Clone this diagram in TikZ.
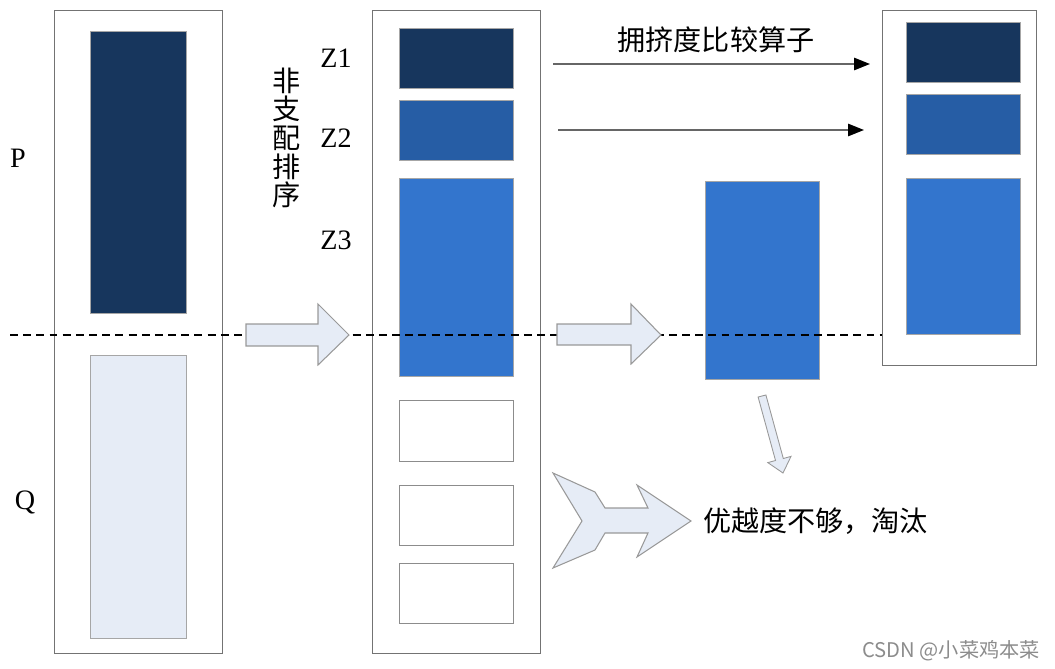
\documentclass[tikz,border=0pt]{standalone}
\usepackage{fontspec}
\setmainfont{Liberation Serif}
\newfontfamily\cjk{Noto Sans CJK SC}
\usepackage{xcolor}
\usepackage{tikz}
\usetikzlibrary{arrows.meta, positioning}

\newlength\px
\setlength\px{0.02cm}

\definecolor{navyP}{RGB}{23,54,93}
\definecolor{midZ}{RGB}{38,93,165}
\definecolor{brightZ}{RGB}{51,117,205}
\definecolor{paleQ}{RGB}{230,236,246}

\begin{document}
\begin{tikzpicture}[
  x=0.02cm, y=-0.02cm,
  every node/.style={font=\fontsize{16}{18}\selectfont, inner sep=0pt, outer sep=0pt},
  popbox/.style={rectangle, draw=black!55, line width=0.5pt, minimum width=168\px},
  blk/.style={rectangle, minimum width=114\px, minimum height=60\px},
  dark/.style={blk, fill=navyP, draw=black!35, line width=0.4pt},
  mid/.style={blk, fill=midZ, draw=black!35, line width=0.4pt},
  bright/.style={blk, fill=brightZ, draw=black!35, line width=0.4pt},
  empty/.style={blk, draw=black!45, fill=white, line width=0.5pt},
  blockarr/.style={draw=black!40, fill=paleQ, line width=0.6pt, line join=miter},
  thinarr/.style={-{Triangle[length=9pt, width=7pt, color=black]}, gray!80!black, line width=0.8pt},
  lab/.style={font=\fontsize{16}{18}\selectfont\cjk}
]
  \useasboundingbox (0,0) rectangle (1055,669);

  % Parent population P + offspring Q
  \node[popbox, minimum height=643\px] (pop) at (138,331.5) {};
  \node[dark, minimum width=96\px, minimum height=282\px] (P) at (138,172) {};
  \node[blk, fill=paleQ, draw=black!35, line width=0.5pt,
        minimum width=96\px, minimum height=283\px] (Q) at (138,496.5) {};
  \node (plab) at (18,158) {P};
  \node (qlab) at (25,502) {Q};

  % Sorted fronts
  \node[popbox, minimum height=643\px] (sorted) at (456,331.5) {};
  \node[dark]   (z1) at (456,58)  {};
  \node[mid]    (z2) at (456,130) {};
  \node[bright, minimum height=198\px] (z3) at (456,277) {};
  \node[empty, minimum height=61\px] (w1) at (456,430.5) {};
  \node[empty] (w2) at (456,515) {};
  \node[empty] (w3) at (456,593) {};
  \node (z1lab) at (336,58)  {Z1};
  \node (z2lab) at (336,138) {Z2};
  \node (z3lab) at (336,240) {Z3};
  \node[lab, align=center, font=\fontsize{16}{16.3}\selectfont\cjk] (sortlab) at (287,138)
    {非\\支\\配\\排\\序};

  % Z3 taken out, new population
  \node[bright, minimum height=198\px] (z3b) at (762,280) {};
  \node[popbox, minimum width=154\px, minimum height=355\px] (newpop) at (959,187.5) {};
  \node[dark]   (r1) at (963,52)  {};
  \node[mid]    (r2) at (963,124) {};
  \node[bright, minimum height=156\px] (r3) at (963,256) {};

  % Split line N
  \draw[dashed, dash pattern=on 4.5pt off 3pt, line width=0.6pt] (10,335) -- (newpop.west |- 0,335);

  % Block arrows
  \draw[blockarr] (246,324) -- (318,324) -- (318,304) -- (349,335) -- (318,365)
    -- (318,346) -- (246,346) -- cycle;
  \draw[blockarr] (557,324) -- (631,324) -- (631,304) -- (661,335) -- (631,364)
    -- (631,345) -- (557,345) -- cycle;
  \draw[blockarr] (553,473) -- (595,492) -- (605,508) -- (648,508) -- (637,485)
    -- (691,521) -- (637,557) -- (648,533) -- (605,533) -- (595,550) -- (553,568)
    -- (582,521) -- cycle;
  \draw[blockarr, line width=0.5pt] (758.1,397) -- (765.9,395) -- (783.3,458.5)
    -- (791,456.4) -- (783,473) -- (767.8,462.6) -- (775.5,460.5) -- cycle;

  % Crowding comparison
  \draw[thinarr, shorten <=40\px, shorten >=36\px] ([yshift=-6\px]z1.east) -- ([yshift=-12\px]r1.west);
  \draw[thinarr, shorten <=45\px, shorten >=42\px] (z2.east) -- ([yshift=-6\px]r2.west);
  \node[lab] (crowd) at (716,40) {拥挤度比较算子};
  \node[lab, anchor=west] (drop) at (703,521) {优越度不够，淘汰};

  % Watermark
  \node[font=\fontsize{11.5}{13}\selectfont\cjk, text=black!45, anchor=east] (mark) at (1040,651)
    {CSDN @小菜鸡本菜};
\end{tikzpicture}
\end{document}
